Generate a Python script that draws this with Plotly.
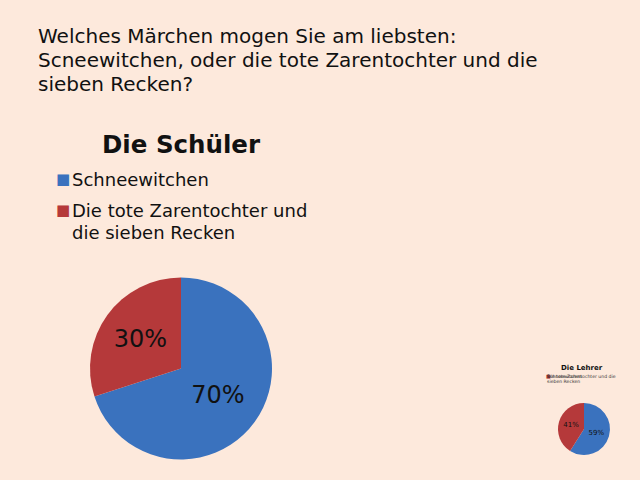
import plotly.graph_objects as go

categories = ["Schneewitchen", "Die tote Zarentochter und die sieben Recken"]
legend_lines = [["Schneewitchen"], ["Die tote Zarentochter und", "die sieben Recken"]]
small_legend_lines = [["Schneewitchen"], ["Die tote Zarentochter und die", "sieben Recken"]]
schueler_values = [70, 30]
lehrer_values = [59, 41]
colors = ["#3A72BE", "#B5393A"]
title_lines = ["Welches Märchen mogen Sie am liebsten:",
               "Scneewitchen, oder die tote Zarentochter und die",
               "sieben Recken?"]

BG = "#FDE9DC"
FONT = "DejaVu Sans"
W, H = 640, 480


def px(x):
    return x / W


def py(y):
    return 1 - y / H


fig = go.Figure()

fig.add_trace(go.Pie(
    labels=categories, values=schueler_values, sort=False, direction="clockwise",
    rotation=0, marker=dict(colors=colors),
    domain=dict(x=[px(90), px(272)], y=[py(460), py(277)]),
    texttemplate="%{percent:.0%}", textposition="inside",
    insidetextfont=dict(family=FONT, size=24, color="#111111"),
    hoverinfo="label+percent", showlegend=False,
))

fig.add_trace(go.Pie(
    labels=categories, values=lehrer_values, sort=False, direction="clockwise",
    rotation=0, marker=dict(colors=colors),
    domain=dict(x=[px(558), px(610)], y=[py(455), py(403)]),
    texttemplate="%{percent:.0%}", textposition="inside",
    insidetextfont=dict(family=FONT, size=7, color="#111111"),
    hoverinfo="label+percent", showlegend=False,
))


def txt(text, x, y, size, xanchor="left", color="#111111"):
    return dict(text=text, x=px(x), y=py(y), xanchor=xanchor, yanchor="middle",
                showarrow=False, align="left",
                font=dict(family=FONT, size=size, color=color))


annotations = []
for i, line in enumerate(title_lines):
    annotations.append(txt(line, 36, 36 + 24 * i, 20))

annotations.append(txt("<b>Die Schüler</b>", 181, 145, 24.5, xanchor="center"))

# big legend
leg_y = [179, 210]
for i, lines in enumerate(legend_lines):
    annotations.append(txt("■", 54, leg_y[i], 15, color=colors[i]))
    for j, line in enumerate(lines):
        annotations.append(txt(line, 70, leg_y[i] + 23 * j, 18))

# small chart title and (overlapping, as in the original) legend
annotations.append(txt("<b>Die Lehrer</b>", 582, 368, 7, xanchor="center"))
annotations.append(txt("■", 543.5, 376, 5, color=colors[1]))
for i, lines in enumerate(small_legend_lines):
    for j, line in enumerate(lines):
        annotations.append(txt(line, 545, 376 + 5 * j, 4.6, color="#333333"))

fig.update_layout(
    width=W, height=H, margin=dict(l=0, r=0, t=0, b=0),
    paper_bgcolor=BG, plot_bgcolor=BG,
    annotations=annotations,
    showlegend=False,
)

fig.write_html("out.html")
